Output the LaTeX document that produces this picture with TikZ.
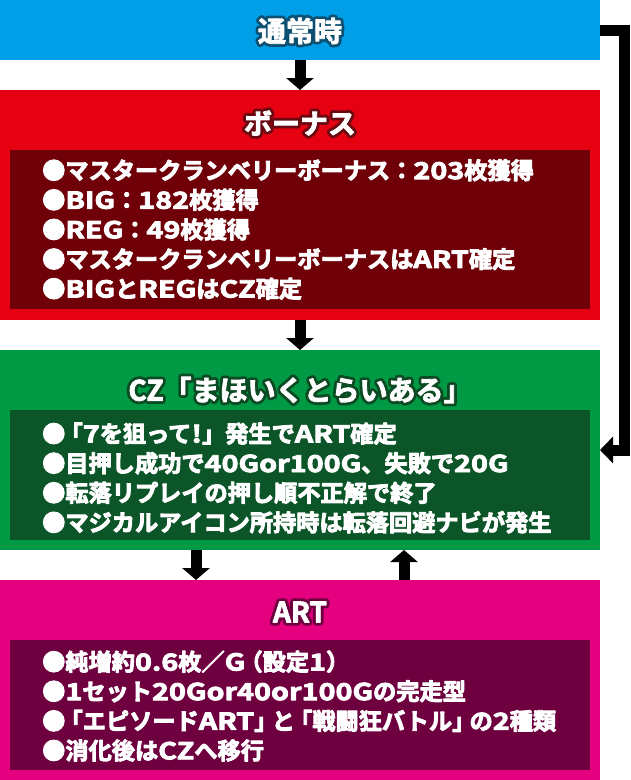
\documentclass[tikz,border=0pt]{standalone}
\usepackage{fontspec}
\usetikzlibrary{arrows.meta}
\newfontfamily\jp{Noto Sans CJK JP}[UprightFont=* Bold]
\newfontfamily\jpw{Noto Sans CJK JP}[UprightFont=* Bold, FakeStretch=1.24]
\definecolor{cblue}{HTML}{009FE8}
\definecolor{cblueo}{HTML}{0B4F71}
\definecolor{cred}{HTML}{E50012}
\definecolor{credi}{HTML}{6F0008}
\definecolor{credo}{HTML}{6A0A10}
\definecolor{cgreen}{HTML}{009A44}
\definecolor{cgreeni}{HTML}{0C5529}
\definecolor{cgreeno}{HTML}{0B4A22}
\definecolor{cmag}{HTML}{E4007F}
\definecolor{cmagi}{HTML}{6E0040}
\definecolor{cmago}{HTML}{6E0040}
\newcommand\strokeon[1]{\special{pdf:literal direct 2 Tr #1 w 1 j}}
\newcommand\strokeoff{\special{pdf:literal direct 0 Tr}}
\newcommand\ttltext[2]{\makebox[0pt]{\color{#1}\jp\strokeon{6.5}#2\strokeoff}\makebox[0pt]{\color{white}\jp\strokeon{0.8}#2\strokeoff}}
\newcommand\lt[1]{{\jpw #1}}
\newcommand\lbr{\kern-0.25em「}
\newcommand\rbr{」\kern-0.25em}
\tikzset{
  box/.style={fill=#1, draw=none, minimum width=600pt, inner sep=0pt, outer sep=0pt},
  inbox/.style={fill=#1, draw=none, minimum width=580pt, inner sep=0pt, outer sep=0pt},
  ttl/.style={inner sep=0pt, font=\fontsize{28}{30}\selectfont},
  body/.style={anchor=west, align=left, inner sep=0pt, text=white, font=\jp\fontsize{23.2}{29.6}\selectfont},
  arr/.style={line width=11pt, -{Triangle[width=27pt,length=12pt]}},
  back/.style={line width=11pt, miter limit=10, -{Triangle[width=26pt,length=13pt]}}
}
\begin{document}
\begin{tikzpicture}[x=1pt,y=-1pt]
\useasboundingbox (0,0) rectangle (630,780);
% boxes
\node[box=cblue, minimum height=60pt] (normal) at (300,30) {};
\node[box=cred, minimum height=230pt] (bonus) at (300,205) {};
\node[inbox=credi, minimum height=159pt] (bonusin) at (300,229.5) {};
\node[box=cgreen, minimum height=200pt] (cz) at (300,450) {};
\node[inbox=cgreeni, minimum height=130pt] (czin) at (300,475) {};
\node[box=cmag, minimum height=200pt] (art) at (300,680) {};
\node[inbox=cmagi, minimum height=130pt] (artin) at (300,705) {};
% titles
\node[ttl] (t1) at (300,31) {\ttltext{cblueo}{通常時}};
\node[ttl] (t2) at (300,123) {\ttltext{credo}{ボーナス}};
\node[ttl] (t3) at (300,390) {\ttltext{cgreeno}{CZ「まほいくとらいある」}};
\node[ttl] (t4) at (300,612) {\ttltext{cmago}{ART}};
% body texts
\node[body] (b1) at (42,229.5) {\strokeon{0.9}●マスタークランベリーボーナス：\lt{203}枚獲得\\●\lt{BIG}：\lt{182}枚獲得\\●\lt{REG}：\lt{49}枚獲得\\●マスタークランベリーボーナスは\lt{ART}確定\\●\lt{BIG}と\lt{REG}は\lt{CZ}確定\strokeoff};
\node[body] (b2) at (42,478) {\strokeon{0.9}●\lbr\lt{7}を狙って\lt{!}」発生で\lt{ART}確定\\●目押し成功で\lt{40Gor100G}、失敗で\lt{20G}\\●転落リプレイの押し順不正解で終了\\●マジカルアイコン所持時は転落回避ナビが発生\strokeoff};
\node[body] (b3) at (42,706) {\strokeon{0.9}●純増約\lt{0.6}枚／\lt{G}\kern-0.25em（設定\lt{1}）\\●\lt{1}セット\lt{20Gor40or100G}の完走型\\●\lbr エピソード\lt{ART}\rbr と\lbr 戦闘狂バトル\rbr の\lt{2}種類\\●消化後は\lt{CZ}へ移行\strokeoff};
% connectors
\draw[arr] (normal.south) -- (bonus.north);
\draw[arr] (bonus.south) -- (cz.north);
\draw[arr] ([xshift=196pt]cz.south west) -- ([xshift=196pt]art.north west);
\draw[arr] ([xshift=404pt]art.north west) -- ([xshift=404pt]cz.south west);
\draw[back] (normal.east) -- ++(24,0) |- (cz.east);
\end{tikzpicture}
\end{document}
